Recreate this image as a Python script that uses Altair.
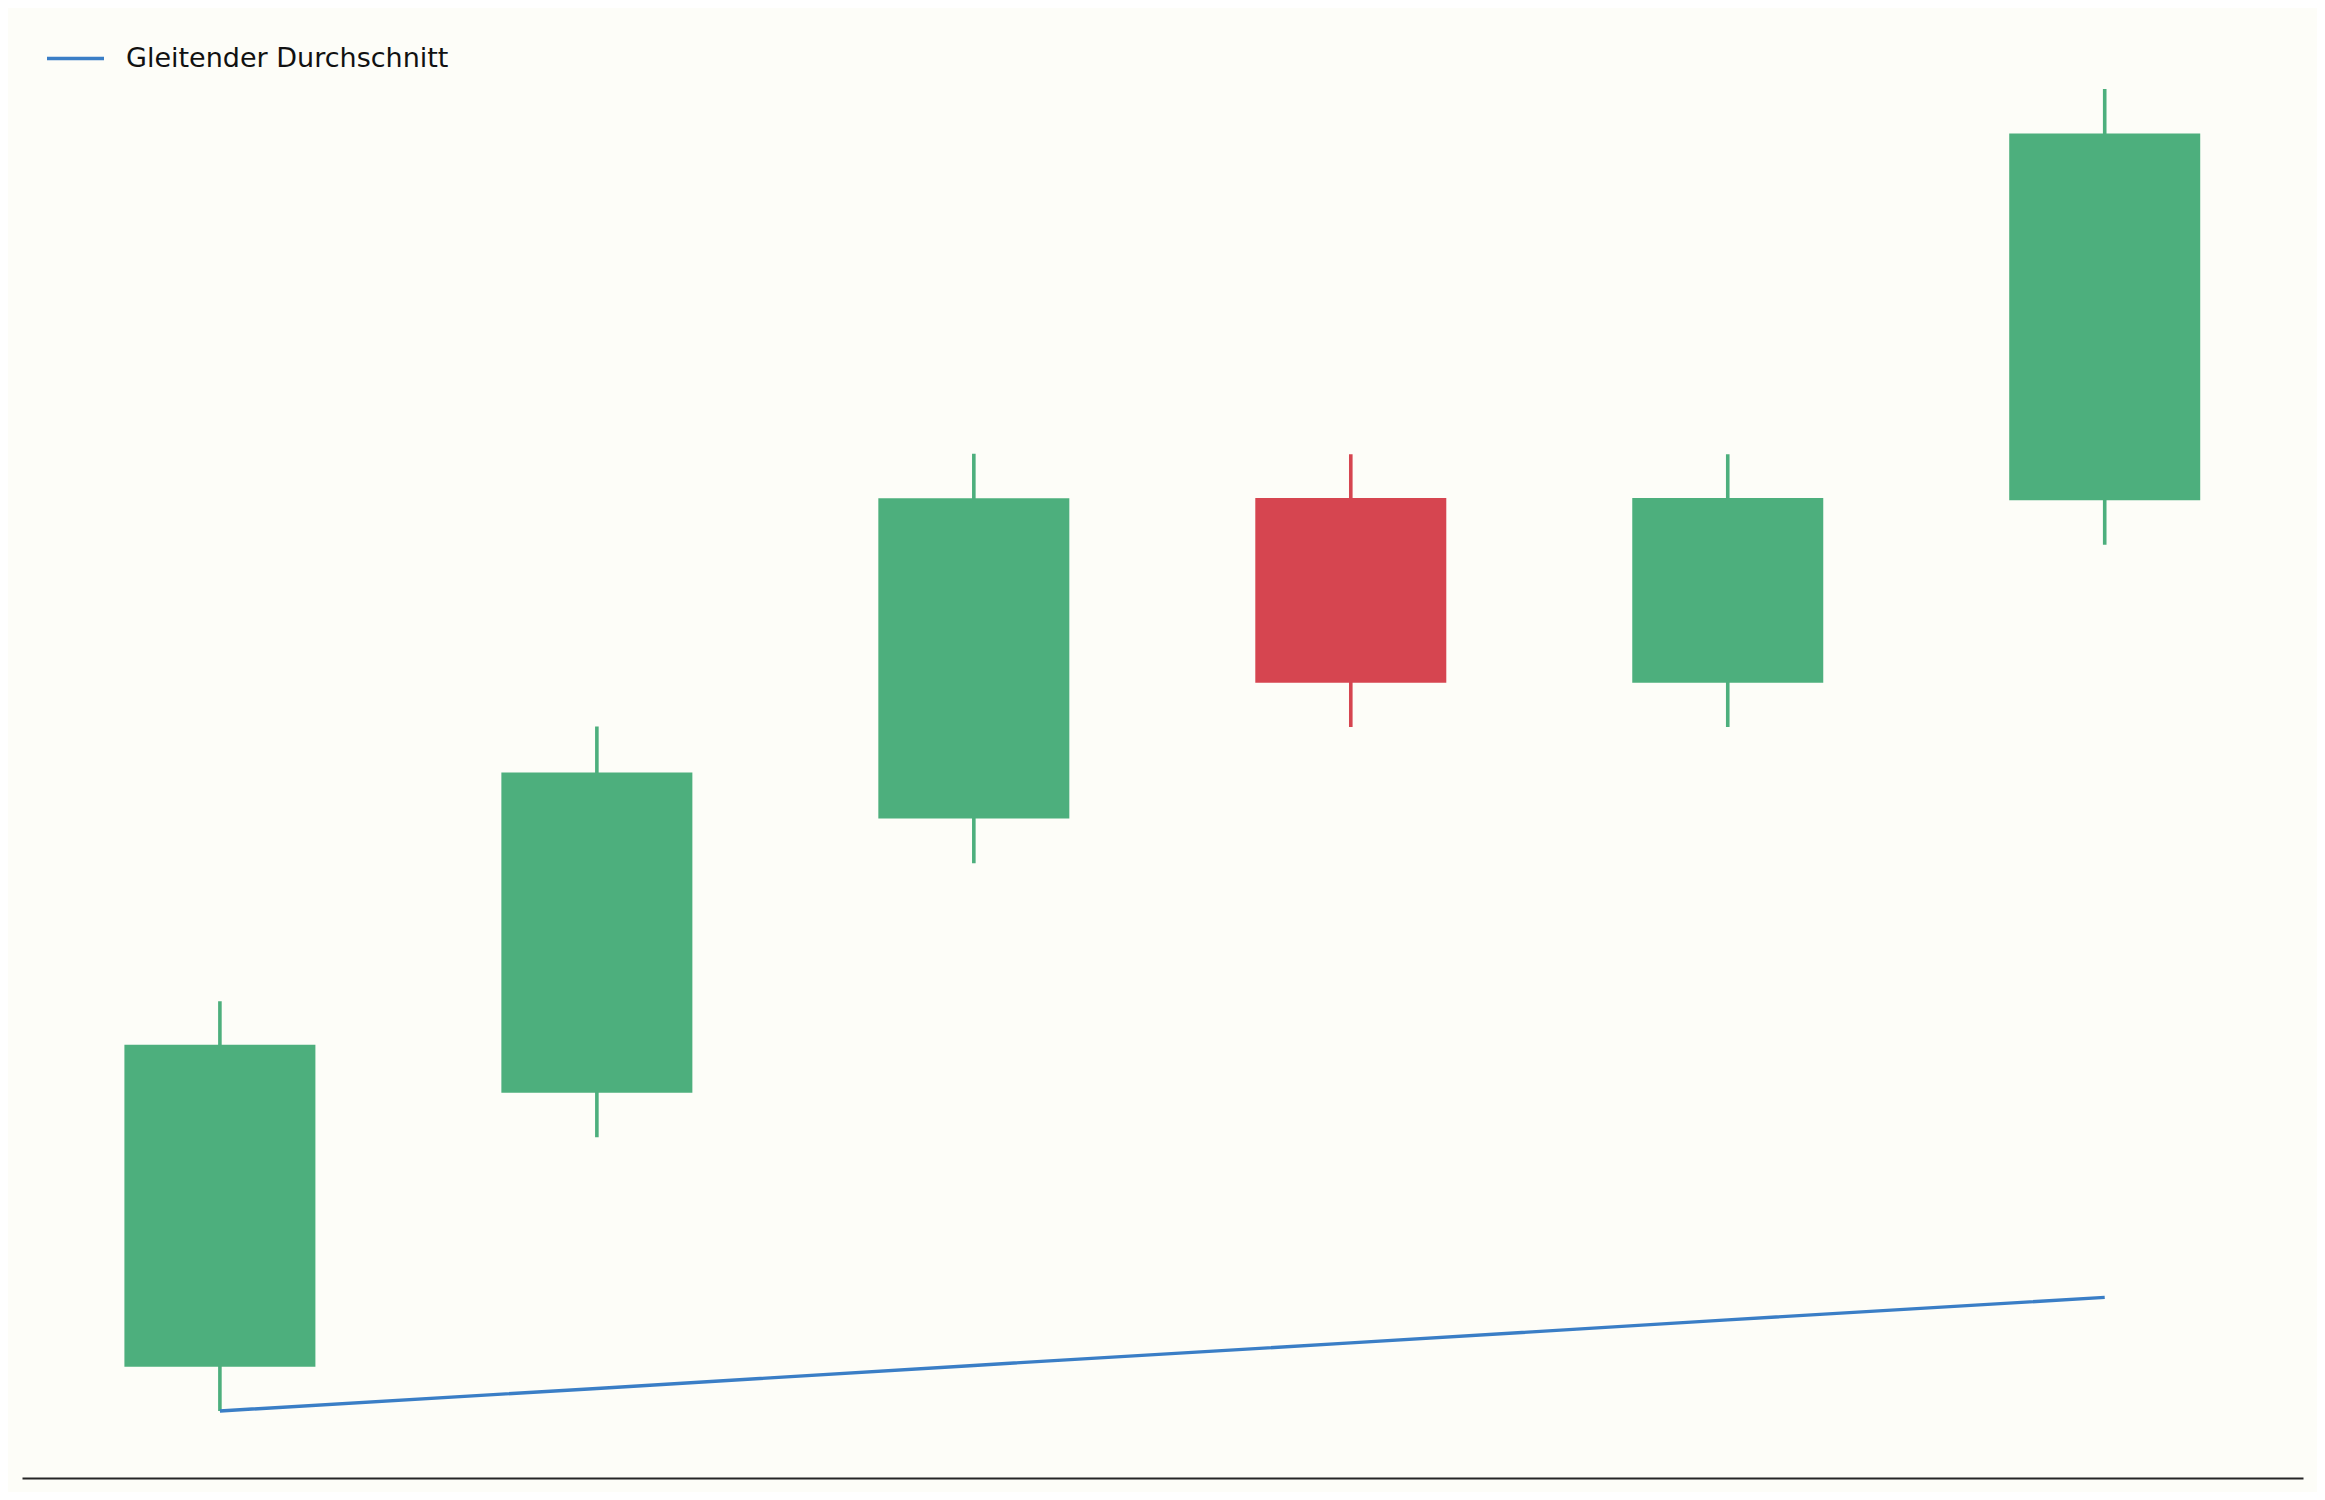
import altair as alt
import pandas as pd

# Data
idx = [0, 1, 2, 3, 4, 5]
open_ = [100.96, 106.92, 112.88, 119.85, 115.83, 119.80]
high = [108.91, 114.88, 120.81, 120.80, 120.80, 128.74]
low = [100.00, 105.95, 111.91, 114.87, 114.87, 118.83]
close = [107.96, 113.88, 119.84, 115.83, 119.85, 127.77]
ma = [100.00, 100.49, 100.99, 101.48, 101.98, 102.47]
series_name = "Gleitender Durchschnitt"

GREEN = "#4daf7d"
RED = "#d64550"
BLUE = "#3a7ec6"
BG = "#fdfdf8"

candles = pd.DataFrame({
    "i": idx, "open": open_, "high": high, "low": low, "close": close,
    "dir": ["up" if c >= o else "down" for o, c in zip(open_, close)],
})
ma_df = pd.DataFrame({"i": idx, "ma": ma, "series": [series_name] * len(idx)})

xscale = alt.Scale(domain=[-0.525, 5.526], nice=False, zero=False, padding=0)
yscale = alt.Scale(domain=[98.543, 130.50], nice=False, zero=False, padding=0)
xaxis = alt.Axis(domain=True, domainColor="#262626", domainWidth=2.2,
                 ticks=False, labels=False, grid=False, title=None)
cscale = alt.Scale(domain=["up", "down"], range=[GREEN, RED])

base = alt.Chart(candles)
wicks = base.mark_rule(strokeWidth=3.6).encode(
    x=alt.X("i:Q", scale=xscale, axis=xaxis),
    y=alt.Y("low:Q", scale=yscale, axis=None),
    y2="high:Q",
    color=alt.Color("dir:N", scale=cscale, legend=None),
)
bodies = base.mark_bar(size=191).encode(
    x=alt.X("i:Q", scale=xscale),
    y=alt.Y("open:Q", scale=yscale),
    y2="close:Q",
    color=alt.Color("dir:N", scale=cscale, legend=None),
)
line = alt.Chart(ma_df).mark_line(strokeWidth=3.4).encode(
    x=alt.X("i:Q", scale=xscale),
    y=alt.Y("ma:Q", scale=yscale),
    color=alt.Color("series:N", scale=alt.Scale(range=[BLUE]),
                    legend=alt.Legend(title=None, orient="none", legendX=23, legendY=20,
                                      symbolType="stroke", symbolSize=3249,
                                      symbolStrokeWidth=3.5, labelFontSize=27,
                                      labelFont="DejaVu Sans", labelColor="#111111",
                                      labelOffset=20, padding=0, labelLimit=1000)),
)

chart = alt.layer(wicks, bodies, line).resolve_scale(color="independent").properties(
    width=2281, height=1470,
    padding={"left": 14, "top": 0, "right": 14, "bottom": 14},
    background=BG,
).configure_view(stroke=None, fill=BG)

chart.save("out.html", embed_options={"renderer": "svg", "actions": False})
